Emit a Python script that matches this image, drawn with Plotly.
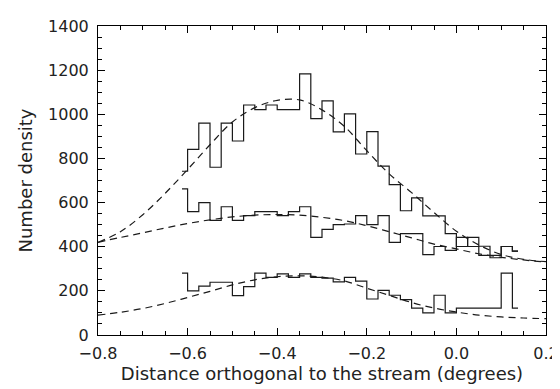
import plotly.graph_objects as go

# Histogram bin centres (bin width 0.025)
bin_centers = [-0.6125 + 0.025 * i for i in range(31)]

# Upper histogram
hist_upper = [742, 841, 960, 760, 960, 879, 1042, 1021, 1042, 1021,
              1021, 1183, 980, 1061, 920, 1002, 820, 921, 765, 681,
              563, 621, 540, 540, 459, 401, 442, 402, 361, 401, 380]
# Middle histogram
hist_middle = [662, 559, 600, 519, 581, 519, 541, 559, 559, 541,
               559, 581, 442, 479, 500, 503, 541, 500, 541, 420,
               459, 459, 364, 401, 383, 442, 401, 361, 350, 401, 380]
# Lower histogram
hist_lower = [280, 200, 221, 239, 239, 178, 219, 280, 261, 277,
              261, 277, 261, 258, 241, 261, 244, 163, 202, 180,
              160, 122, 100, 180, 100, 122, 122, 122, 122, 280, 122]

# Dashed model curves
curve_x = [-0.8, -0.75, -0.7, -0.65, -0.6, -0.55, -0.5, -0.45, -0.4, -0.35,
           -0.3, -0.25, -0.2, -0.15, -0.1, -0.05, 0.0, 0.05, 0.1, 0.15, 0.2]
curve_upper = [420, 468, 545, 642, 750, 862, 965, 1030, 1063, 1065,
               1020, 945, 835, 730, 645, 555, 470, 408, 365, 343, 332]
curve_middle = [420, 442, 463, 485, 505, 522, 535, 543, 546, 543,
                533, 518, 495, 468, 440, 412, 390, 368, 352, 340, 330]
curve_lower = [90, 103, 120, 143, 170, 198, 227, 250, 264, 268,
               262, 245, 212, 180, 147, 122, 104, 90, 82, 77, 74]

fig = go.Figure()
for h in (hist_upper, hist_middle, hist_lower):
    fig.add_trace(go.Scatter(x=bin_centers, y=h, mode="lines",
                             line=dict(shape="hvh", color="#1a1a1a", width=1.2),
                             showlegend=False, hoverinfo="skip"))
for c in (curve_upper, curve_middle, curve_lower):
    fig.add_trace(go.Scatter(x=curve_x, y=c, mode="lines",
                             line=dict(shape="spline", color="#1a1a1a", width=1.2,
                                       dash="7px,5px"),
                             showlegend=False, hoverinfo="skip"))

tick_font = dict(family="DejaVu Sans", size=16, color="#222222")
title_font = dict(family="DejaVu Sans", size=18, color="#222222")
fig.update_layout(
    width=560, height=389,
    margin=dict(l=90, r=20, t=9, b=62),
    paper_bgcolor="white", plot_bgcolor="white",
    font=tick_font,
    xaxis=dict(range=[-0.8, 0.2], tickmode="linear", tick0=-0.8, dtick=0.2,
               tickformat=".1f",
               ticks="inside", ticklen=7, tickcolor="black", tickwidth=1,
               minor=dict(dtick=0.05, ticks="inside", ticklen=4, tickcolor="black",
                          tickwidth=1),
               showline=True, linecolor="black", linewidth=1, mirror="allticks",
               showgrid=False, zeroline=False, ticklabelstandoff=4,
               tickfont=tick_font,
               title=dict(text="Distance orthogonal to the stream (degrees)",
                          standoff=0, font=title_font)),
    yaxis=dict(range=[0, 1400], tickmode="linear", tick0=0, dtick=200,
               ticks="inside", ticklen=7, tickcolor="black", tickwidth=1,
               minor=dict(dtick=50, ticks="inside", ticklen=4, tickcolor="black",
                          tickwidth=1),
               showline=True, linecolor="black", linewidth=1, mirror="allticks",
               showgrid=False, zeroline=False, ticklabelstandoff=5,
               tickfont=tick_font,
               title=dict(text="Number density", standoff=10, font=title_font)),
)
fig.write_html("out.html")
